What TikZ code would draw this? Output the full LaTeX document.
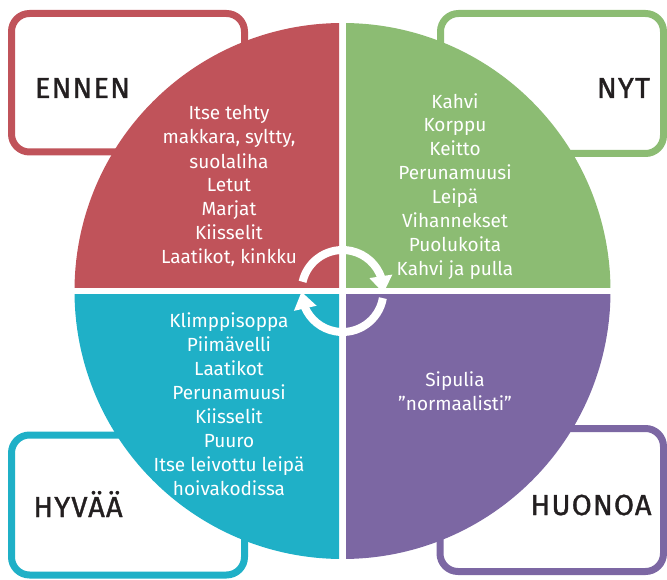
\documentclass[tikz,border=0pt]{standalone}
\usepackage{fontspec}
\setmainfont{Fira Sans}
\usetikzlibrary{arrows.meta,bending,calc}
\definecolor{qred}{HTML}{C0535A}
\definecolor{qgreen}{HTML}{8CBC73}
\definecolor{qteal}{HTML}{1FB0C7}
\definecolor{qpurple}{HTML}{7C67A3}
\definecolor{ink}{HTML}{231F20}
\begin{document}
\begin{tikzpicture}[x=1pt,y=-1pt,
  framebox/.style={line width=7pt, rounded corners=18pt, fill=white},
  items/.style={text=white, align=center, anchor=base, inner sep=0pt, font=\fontsize{19}{24}\selectfont},
  tag/.style={text=ink, anchor=base, inner sep=0pt, font=\fontsize{29}{34}\selectfont\addfontfeature{LetterSpace=4,FakeBold=1.2}},
  cyc/.style={white, line width=8pt, -{Triangle[width=22pt,length=17pt]}}]
\useasboundingbox (0,0) rectangle (667,580);
% frames
\draw[framebox, draw=qred] (11.5,13.5) rectangle (244.5,152);
\draw[framebox, draw=qgreen] (440.5,13.5) rectangle (663.5,153.5);
\draw[framebox, draw=qteal] (11.5,435) rectangle (244.5,575);
\draw[framebox, draw=qpurple] (440,428.5) rectangle (663.5,571.5);
% quadrants
\coordinate (c) at (342.5,291);
\begin{scope}\clip (0,0) rectangle (339,287.5); \fill[qred] (c) circle[radius=268pt]; \end{scope}
\begin{scope}\clip (346,0) rectangle (667,287.5); \fill[qgreen] (c) circle[radius=268pt]; \end{scope}
\begin{scope}\clip (0,294.5) rectangle (339,580); \fill[qteal] (c) circle[radius=268pt]; \end{scope}
\begin{scope}\clip (346,294.5) rectangle (667,580); \fill[qpurple] (c) circle[radius=268pt]; \end{scope}
% cycle arrows
\draw[cyc] ($(c)+(167:41pt)$) arc[start angle=167, end angle=-3, radius=41pt];
\draw[cyc] ($(c)+(-10:41pt)$) arc[start angle=-10, end angle=-179, radius=41pt];
% texts (base = last line)
\node[items] (tred) at (229,264) {Itse tehty\\makkara, syltty,\\suolaliha\\Letut\\Marjat\\Kiisselit\\Laatikot, kinkku};
\node[items] (tgreen) at (455,276) {Kahvi\\Korppu\\Keitto\\Perunamuusi\\Leipä\\Vihannekset\\Puolukoita\\Kahvi ja pulla};
\node[items] (tteal) at (229,495) {Klimppisoppa\\Piimävelli\\Laatikot\\Perunamuusi\\Kiisselit\\Puuro\\Itse leivottu leipä\\hoivakodissa};
\node[items] (tpurple) at (455,410) {Sipulia\\”normaalisti”};
% tags
\node[tag] (ennen) at (82.5,98) {ENNEN};
\node[tag] (nyt) at (623.5,98) {NYT};
\node[tag] (hyvaa) at (78,517) {HYVÄÄ};
\node[tag] (huonoa) at (591,515) {HUONOA};
\end{tikzpicture}
\end{document}
